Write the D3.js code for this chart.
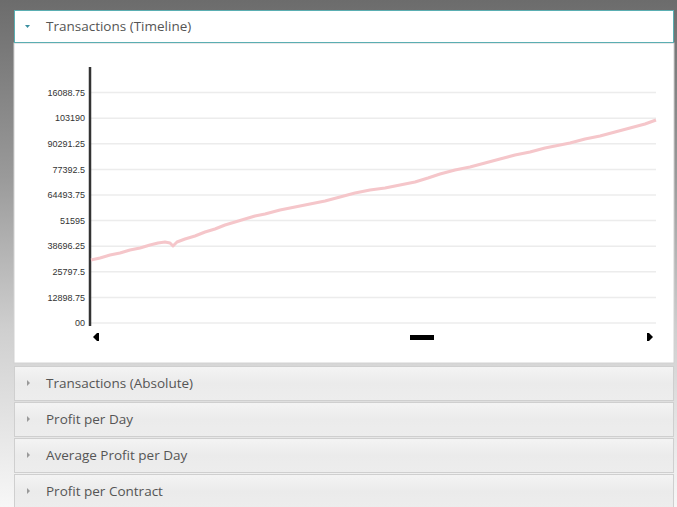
<!DOCTYPE html>
<html lang="en">
<head>
<meta charset="UTF-8">
<title>Transactions (Timeline)</title>
<script src="https://d3js.org/d3.v7.min.js"></script>
<style>
    body {
        margin: 0;
        width: 677px;
        height: 507px;
        overflow: hidden;
        background: linear-gradient(to bottom, #6c6c6c 0%, #9a9a9a 35%, #cfcfcf 65%, #f7f7f7 100%);
        font-family: 'Open Sans', 'Noto Sans', sans-serif;
    }
    .tick-label {
        font-family: 'Liberation Sans', Arial, sans-serif;
        font-size: 9px;
        fill: #333;
    }
    .panel-title {
        font-size: 13.5px;
        fill: #555;
    }
</style>
</head>
<body>
<svg id="page" width="677" height="507"></svg>
<script>
    // Timeline series: day index and cumulative value
    const days = [0, 9, 19, 29, 39, 49, 59, 67, 74, 79, 82, 86, 94, 104, 114, 124, 134, 144, 154, 164, 174,
                  189, 204, 219, 234, 249, 264, 279, 294, 309, 324, 337, 349, 364, 379, 394, 409, 424, 439,
                  454, 469, 479, 494, 509, 524, 539, 554, 565];
    const values = [31743, 32751, 34262, 35270, 36782, 37790, 39301, 40309, 40813, 40309, 38797, 40813,
                    42324, 43836, 45851, 47363, 49378, 50890, 52401, 53913, 54921, 56936, 58448, 59959,
                    61471, 63486, 65502, 67013, 68021, 69533, 71044, 73060, 75075, 77090, 78602, 80618,
                    82633, 84648, 86160, 88176, 89687, 90695, 92710, 94222, 96237, 98253, 100268, 102283];

    // y axis ticks and the labels as they appear
    const tickValues = [0, 12898.75, 25797.5, 38696.25, 51595, 64493.75, 77392.5, 90291.25, 103190, 116088.75];
    const tickLabels = ['00', '12898.75', '25797.5', '38696.25', '51595', '64493.75', '77392.5', '90291.25', '103190', '16088.75'];

    // collapsed panels below the chart
    const panelTitles = ['Transactions (Absolute)', 'Profit per Day', 'Average Profit per Day', 'Profit per Contract'];

    const svg = d3.select('#page');
    const panelX = 14, panelW = 660;

    const defs = svg.append('defs');
    const grad = defs.append('linearGradient')
        .attr('id', 'collapsed').attr('x1', 0).attr('y1', 0).attr('x2', 0).attr('y2', 1);
    grad.append('stop').attr('offset', '0%').attr('stop-color', '#f4f4f4');
    grad.append('stop').attr('offset', '50%').attr('stop-color', '#ebebeb');
    grad.append('stop').attr('offset', '100%').attr('stop-color', '#ededed');

    // open panel: header + body
    svg.append('rect')
        .attr('x', panelX).attr('y', 43).attr('width', panelW).attr('height', 320)
        .attr('fill', '#fff').attr('stroke', '#d2d2d2');
    svg.append('rect')
        .attr('x', panelX + 0.5).attr('y', 10.5).attr('width', panelW - 1).attr('height', 32)
        .attr('fill', '#fff').attr('stroke', '#5aaeb2');
    svg.append('path')
        .attr('d', 'M25,25 L30,25 L27.5,28 Z')
        .attr('fill', '#3a8fa0');
    svg.append('text')
        .attr('class', 'panel-title')
        .attr('x', 46).attr('y', 31)
        .text('Transactions (Timeline)');

    // chart
    const x = d3.scaleLinear().domain([0, 565]).range([91, 656]);
    const y = d3.scaleLinear().domain([0, 128987.5]).range([323, 67]);

    const chart = svg.append('g');

    chart.selectAll('.grid')
        .data(tickValues)
        .enter().append('line')
        .attr('class', 'grid')
        .attr('x1', 91).attr('x2', 656)
        .attr('y1', d => y(d)).attr('y2', d => y(d))
        .attr('stroke', '#ececec')
        .attr('stroke-width', 1.5);

    chart.selectAll('.tick-label')
        .data(tickValues)
        .enter().append('text')
        .attr('class', 'tick-label')
        .attr('x', 85)
        .attr('y', d => y(d))
        .attr('dy', '0.35em')
        .attr('text-anchor', 'end')
        .text((d, i) => tickLabels[i]);

    chart.append('line')
        .attr('x1', 90).attr('x2', 90)
        .attr('y1', 67).attr('y2', 326)
        .attr('stroke', '#333')
        .attr('stroke-width', 2.5);

    const line = d3.line()
        .x((d, i) => x(days[i]))
        .y(d => y(d));

    chart.append('path')
        .datum(values)
        .attr('d', line)
        .attr('fill', 'none')
        .attr('stroke', '#f5c6ca')
        .attr('stroke-width', 3)
        .attr('stroke-linejoin', 'round');

    // scroll handles under the chart
    chart.append('path').attr('d', 'M93,337 L97,333 L99,333 L99,341 L97,341 Z').attr('fill', '#000');
    chart.append('rect').attr('x', 410).attr('y', 335).attr('width', 24).attr('height', 5).attr('fill', '#000');
    chart.append('path').attr('d', 'M653,337 L649,333 L647,333 L647,341 L649,341 Z').attr('fill', '#000');

    // collapsed panels
    const panels = svg.selectAll('.collapsed')
        .data(panelTitles)
        .enter().append('g')
        .attr('class', 'collapsed')
        .attr('transform', (d, i) => `translate(0, ${366 + i * 36})`);

    panels.append('rect')
        .attr('x', panelX + 0.5).attr('y', 0.5)
        .attr('width', panelW - 1).attr('height', 34)
        .attr('fill', 'url(#collapsed)')
        .attr('stroke', '#cfcfcf');

    panels.append('path')
        .attr('d', 'M27,14 L30,17 L27,20 Z')
        .attr('fill', '#999');

    panels.append('text')
        .attr('class', 'panel-title')
        .attr('x', 46).attr('y', 22)
        .text(d => d);
</script>
</body>
</html>
